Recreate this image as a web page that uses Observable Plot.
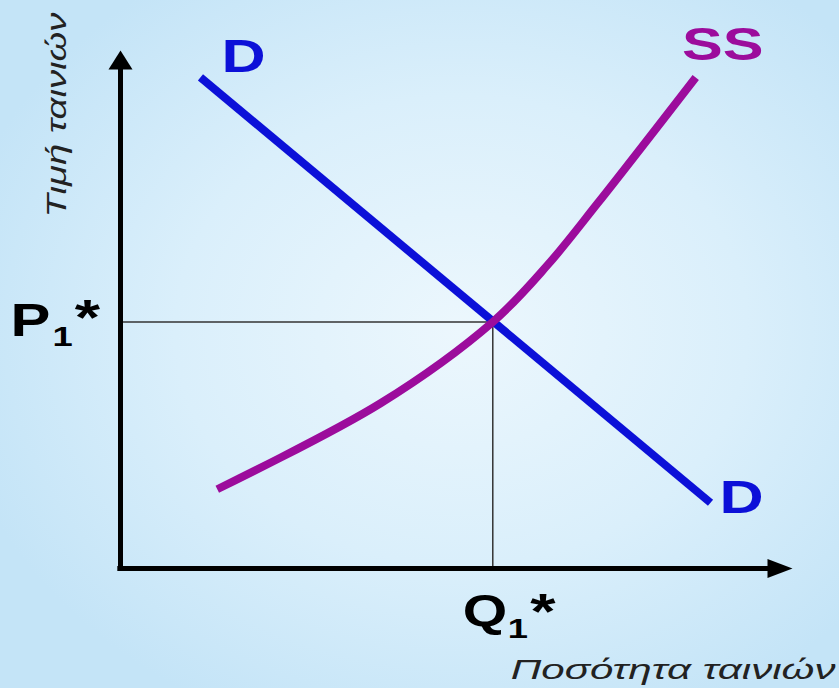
<!DOCTYPE html>
<html>
<head>
<meta charset="utf-8">
<script src="https://cdn.jsdelivr.net/npm/d3@7"></script>
<script src="https://cdn.jsdelivr.net/npm/@observablehq/plot@0.6"></script>
<style>
  html, body { margin: 0; padding: 0; background: #c6e6f8; }
  #chart svg { display: block; }
</style>
</head>
<body>
<div id="chart"></div>
<script>
// ---- Data (conceptual units: quantity 0..10, price 0..10) ----
const demandQ = [1.19, 8.78];
const demandP = [9.48, 1.27];
const supplyQ = [1.44, 3.87, 5.54, 6.35, 7.10, 8.56];
const supplyP = [1.53, 3.19, 4.76, 5.85, 7.05, 9.48];
const eqQ = 5.54;
const eqP = 4.76;
const axisMax = 10;
const curveLabels = ["D", "SS", "D"];
const yTitle = "Τιμή ταινιών";
const xTitle = "Ποσότητα ταινιών";
const pLabel = ["P", "1", "*"];
const qLabel = ["Q", "1", "*"];

const demand = demandQ.map((q, i) => ({q, p: demandP[i]}));
const supply = supplyQ.map((q, i) => ({q, p: supplyP[i]}));
const dStart = [demand[0]];
const dEnd = [demand[demand.length - 1]];
const sEnd = [supply[supply.length - 1]];

const BLUE = "#0c10d8";
const PURPLE = "#9c0c9c";
const FONT = "'Liberation Sans', Arial, sans-serif";
const TITLE_FONT = "'Liberation Sans', Arial, sans-serif";

// custom arrowhead symbols (tip at the anchor point)
const arrowRight = {draw(ctx) { ctx.moveTo(0, 0); ctx.lineTo(-25, -9.5); ctx.lineTo(-25, 9.5); ctx.closePath(); }};
const arrowUp = {draw(ctx) { ctx.moveTo(0, 0); ctx.lineTo(-12, 19); ctx.lineTo(12, 19); ctx.closePath(); }};

const bold = {fontWeight: "bold", lineAnchor: "bottom", fontFamily: FONT};

const chart = Plot.plot({
  width: 839,
  height: 688,
  margin: 0,
  style: {
    background: "radial-gradient(ellipse 62% 62% at 55% 48%, #ecf7fd 0%, #daeffb 55%, #c4e4f7 100%)",
    fontFamily: FONT,
    overflow: "visible"
  },
  x: {domain: [0, axisMax], range: [120, 792], axis: null},
  y: {domain: [0, axisMax], range: [568, 50], axis: null},
  marks: [
    // equilibrium reference lines
    Plot.ruleY([eqP], {x1: 0, x2: eqQ, stroke: "#333", strokeWidth: 1.5}),
    Plot.ruleX([eqQ], {y1: 0, y2: eqP, stroke: "#333", strokeWidth: 1.5}),
    // axes
    Plot.ruleY([0], {x1: -0.04, x2: 9.7, stroke: "#000", strokeWidth: 5}),
    Plot.ruleX([0], {y1: -0.04, y2: 9.7, stroke: "#000", strokeWidth: 5}),
    Plot.dot([{q: axisMax, p: 0}], {x: "q", y: "p", r: 5, symbol: arrowRight, fill: "#000", stroke: null}),
    Plot.dot([{q: 0, p: axisMax}], {x: "q", y: "p", r: 5, symbol: arrowUp, fill: "#000", stroke: null}),
    // curves
    Plot.line(demand, {x: "q", y: "p", stroke: BLUE, strokeWidth: 8, strokeLinecap: "butt"}),
    Plot.line(supply, {x: "q", y: "p", stroke: PURPLE, strokeWidth: 8, strokeLinecap: "butt", curve: "catmull-rom"}),
    // curve labels
    Plot.text(dStart, {x: "q", y: "p", text: [curveLabels[0]], fill: BLUE, dx: 43, dy: -5, fontSize: 47, textAnchor: "middle", ...bold}),
    Plot.text(sEnd, {x: "q", y: "p", text: [curveLabels[1]], fill: PURPLE, dx: 27, dy: -17, fontSize: 47, textAnchor: "middle", ...bold}),
    Plot.text(dEnd, {x: "q", y: "p", text: [curveLabels[2]], fill: BLUE, dx: 31, dy: 10, fontSize: 47, textAnchor: "middle", ...bold}),
    // P1*
    Plot.text([eqP], {x: 0, y: d => d, text: [pLabel[0]], dx: -110, dy: 14, fontSize: 46, fill: "#000", textAnchor: "start", ...bold}),
    Plot.text([eqP], {x: 0, y: d => d, text: [pLabel[1]], dx: -68, dy: 24, fontSize: 28, fill: "#000", textAnchor: "start", ...bold}),
    Plot.text([eqP], {x: 0, y: d => d, text: [pLabel[2]], dx: -33, dy: 13, fontSize: 50, fill: "#000", textAnchor: "middle", ...bold}),
    // Q1*
    Plot.text([eqQ], {x: d => d, y: 0, text: [qLabel[0]], dx: -30, dy: 57, fontSize: 44, fill: "#000", textAnchor: "start", ...bold}),
    Plot.text([eqQ], {x: d => d, y: 0, text: [qLabel[1]], dx: 15, dy: 69, fontSize: 28, fill: "#000", textAnchor: "start", ...bold}),
    Plot.text([eqQ], {x: d => d, y: 0, text: [qLabel[2]], dx: 50, dy: 60, fontSize: 50, fill: "#000", textAnchor: "middle", ...bold}),
    // axis titles
    Plot.text([yTitle], {x: 0, y: axisMax, text: d => d, rotate: -90, dx: -55, dy: 167, fontSize: 28, fontFamily: TITLE_FONT, fontStyle: "italic", fill: "#222", textAnchor: "start", lineAnchor: "bottom"}),
    Plot.text([xTitle], {x: axisMax, y: 0, text: d => d, dx: 43, dy: 110, fontSize: 28, fontFamily: TITLE_FONT, fontStyle: "italic", fill: "#222", textAnchor: "end", lineAnchor: "bottom"})
  ]
});

document.getElementById("chart").append(chart);

// The reference lettering is horizontally wide: stretch bold labels, fit titles to their span
chart.querySelectorAll('g[aria-label="text"] text').forEach(el => {
  const s = el.textContent;
  const t = el.getAttribute("transform") || "";
  if (s === yTitle || s === xTitle) {
    const target = s === yTitle ? 205 : 325;
    const len = el.getComputedTextLength();
    const k = len > 0 ? target / len : 1;
    el.setAttribute("transform", t + ` scale(${k},1)`);
  } else {
    el.setAttribute("transform", t + " scale(1.3,1)");
  }
});
</script>
</body>
</html>
